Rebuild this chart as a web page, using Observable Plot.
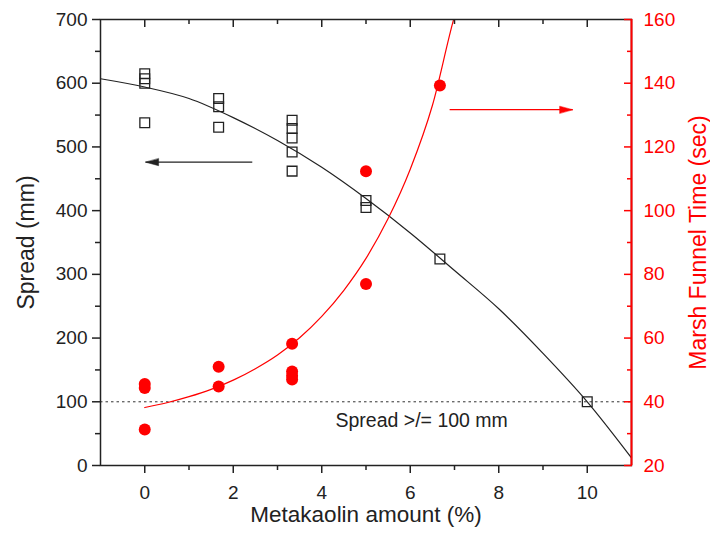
<!DOCTYPE html>
<html><head><meta charset="utf-8">
<script src="https://cdn.jsdelivr.net/npm/d3@7"></script>
<script src="https://cdn.jsdelivr.net/npm/@observablehq/plot@0.6"></script>
<style>body{margin:0;background:#fff}</style>
</head><body><div id="chart"></div>
<script>
// ---- data ----
const xDomain = [-1, 11];
const spreadDomain = [0, 700];
const marshDomain = [20, 160];

const xMajorTicks = [0, 2, 4, 6, 8, 10];
const xMinorTicks = [1, 3, 5, 7, 9];
const leftMajorTicks = [0, 100, 200, 300, 400, 500, 600, 700];
const leftMinorTicks = [50, 150, 250, 350, 450, 550, 650];
const rightTickLabels = [20, 40, 60, 80, 100, 120, 140, 160];

// Spread (mm) measurements (open squares)
const spreadX = [0, 0, 0, 0, 1.67, 1.67, 1.67, 3.33, 3.33, 3.33, 3.33, 3.33, 5, 5, 6.67, 10];
const spreadY = [615, 607, 600, 538, 576, 563, 531, 542, 529, 514, 492, 462, 416, 405, 324, 100];

// Marsh funnel time (sec) measurements (red dots)
const marshX = [0, 0, 0, 1.67, 1.67, 3.33, 3.33, 3.33, 3.33, 5, 5, 6.67];
const marshY = [45.6, 44.3, 31.3, 51, 44.8, 58.2, 49.5, 48.2, 47, 112.4, 77, 139.3];

// fitted curves
const spreadFitX = [-1, 0, 1, 2, 3, 4, 5, 6, 7, 8, 9, 10, 11];
const spreadFitY = [607, 594, 576, 546, 510, 468, 419, 365, 306, 246, 176, 100, 12];
const marshFitX = [0, 0.5, 1, 1.5, 2, 2.5, 3, 3.5, 4, 4.5, 5, 5.5, 6, 6.5, 7, 7.2];
const marshFitY = [38.2, 39.7, 41.6, 43.9, 46.8, 50.4, 54.7, 60.1, 66.8, 75, 85, 97.5, 113, 133, 161, 170];

const spreadLimit = 100;
const noteX = [4.31], noteY = [70.6], noteText = ["Spread >/= 100 mm"];
// arrows: tail x, tip x, y (in own axis units)
const arrowTailX = [2.43, 6.89];
const arrowTipX = [0.02, 9.67];
const arrowYvals = [476, 131.7];
const arrowAxis = ["spread", "marsh"];

const xTitle = "Metakaolin amount (%)";
const yLeftTitle = "Spread (mm)";
const yRightTitle = "Marsh Funnel Time (sec)";

// ---- map the right axis onto the left scale ----
const k = (spreadDomain[1] - spreadDomain[0]) / (marshDomain[1] - marshDomain[0]);
const toSpread = v => spreadDomain[0] + (v - marshDomain[0]) * k;

const spreadPts = spreadX.map((x, i) => ({x, y: spreadY[i]}));
const marshPts = marshX.map((x, i) => ({x, y: toSpread(marshY[i])}));
const spreadFit = spreadFitX.map((x, i) => ({x, y: spreadFitY[i]}));
const marshFit = marshFitX.map((x, i) => ({x, y: toSpread(marshFitY[i])}));
const arrows = arrowTailX.map((x1, i) => ({
  x1, x2: arrowTipX[i],
  y: arrowAxis[i] === "marsh" ? toSpread(arrowYvals[i]) : arrowYvals[i],
  color: arrowAxis[i] === "marsh" ? "red" : "#222",
  rot: arrowTipX[i] < x1 ? -90 : 90
}));
const notes = noteText.map((t, i) => ({x: noteX[i], y: noteY[i], t}));

const head = {draw(ctx, l, r) { ctx.moveTo(0, -l); ctx.lineTo(-r, 0); ctx.lineTo(r, 0); ctx.closePath(); }};

const ink = "#222";
const chart = Plot.plot({
  width: 710, height: 533,
  marginLeft: 100, marginRight: 79, marginTop: 19, marginBottom: 68,
  x: {domain: xDomain},
  y: {domain: spreadDomain},
  style: {fontFamily: "Arial, 'Liberation Sans', sans-serif", fontSize: "19px", color: ink, background: "white"},
  marks: [
    Plot.ruleY([spreadLimit], {stroke: "#333", strokeDasharray: "2.5,3", strokeWidth: 1}),
    Plot.line(spreadFit, {x: "x", y: "y", stroke: ink, strokeWidth: 1.2, curve: "monotone-x"}),
    Plot.line(marshFit, {x: "x", y: "y", stroke: "red", strokeWidth: 1.2, curve: "monotone-x", clip: true}),
    Plot.dot(spreadPts, {x: "x", y: "y", symbol: "square", r: 5.5, stroke: ink, fill: "none", strokeWidth: 1.3}),
    Plot.dot(marshPts, {x: "x", y: "y", r: 6, fill: "red", stroke: "none"}),
    Plot.link(arrows, {x1: "x1", x2: "x2", y1: "y", y2: "y", stroke: "color", strokeWidth: 1.3}),
    Plot.vector(arrows, {x: "x2", y: "y", rotate: "rot", length: 13, r: 3.5, anchor: "end", shape: head, fill: "color", stroke: "color", strokeWidth: 0.5}),
    Plot.text(notes, {x: "x", y: "y", text: "t", textAnchor: "start", fontSize: 19.5, fill: ink}),
    Plot.frame({stroke: ink, strokeWidth: 1.5}),
    Plot.ruleX([xDomain[1]], {stroke: "red", strokeWidth: 2}),
    // axes
    Plot.axisY(leftMajorTicks, {anchor: "left", tickSize: 8, tickPadding: 5, label: null, strokeWidth: 1.5, fontSize: 19}),
    Plot.axisY(leftMinorTicks, {anchor: "left", tickSize: 5, tickFormat: () => "", label: null, strokeWidth: 1.5}),
    Plot.axisY(leftMajorTicks, {anchor: "right", tickSize: 8, dx: -8, tickPadding: 12, tickFormat: d => String(rightTickLabels[leftMajorTicks.indexOf(d)]), color: "red", stroke: "red", fill: "red", label: null, strokeWidth: 1.5, fontSize: 19}),
    Plot.axisY(leftMinorTicks, {anchor: "right", tickSize: 5, dx: -5, tickFormat: () => "", color: "red", stroke: "red", label: null, strokeWidth: 1.5}),
    Plot.axisX(xMajorTicks, {anchor: "top", tickSize: 7, dy: 7, tickFormat: () => "", label: null, strokeWidth: 1.5}),
    Plot.axisX(xMinorTicks, {anchor: "top", tickSize: 4, dy: 4, tickFormat: () => "", label: null, strokeWidth: 1.5}),
    Plot.axisX(xMajorTicks, {anchor: "bottom", tickSize: 8, tickPadding: 12, label: null, strokeWidth: 1.5, fontSize: 19}),
    Plot.axisX(xMinorTicks, {anchor: "bottom", tickSize: 5, tickFormat: () => "", label: null, strokeWidth: 1.5}),
    Plot.text([yLeftTitle], {frameAnchor: "left", dx: -74, rotate: -90, textAnchor: "middle", fontSize: 23, fill: ink}),
    Plot.text([yRightTitle], {frameAnchor: "right", dx: 67, rotate: -90, textAnchor: "middle", fontSize: 23, fill: "red"}),
    Plot.text([xTitle], {frameAnchor: "bottom", dy: 56, fontSize: 22.5, fill: ink})
  ]
});
document.getElementById("chart").append(chart);
</script>
</body></html>
